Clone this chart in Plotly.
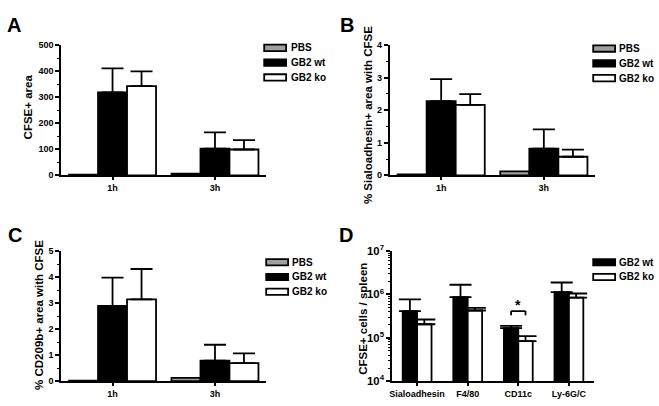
import plotly.graph_objects as go
import numpy as np

W, H = 659, 406
FONT = "Liberation Sans, Arial, sans-serif"

# ---------------- data ----------------
time_cats = ["1h", "3h"]

a_pbs = [3, 6]
a_wt = [318, 102]
a_wt_err = [92, 63]
a_ko = [342, 99]
a_ko_err = [57, 36]

b_pbs = [0.03, 0.12]
b_wt = [2.28, 0.82]
b_wt_err = [0.67, 0.59]
b_ko = [2.16, 0.57]
b_ko_err = [0.33, 0.22]

c_pbs = [0.02, 0.13]
c_wt = [2.89, 0.79]
c_wt_err = [1.09, 0.61]
c_ko = [3.14, 0.69]
c_ko_err = [1.17, 0.38]

cell_cats = ["Sialoadhesin", "F4/80", "CD11c", "Ly-6G/C"]
d_wt = [4.1e5, 8.7e5, 1.67e5, 1.13e6]
d_wt_err = [3.6e5, 8.0e5, 2.1e4, 7.5e5]
d_ko = [2.05e5, 4.26e5, 8.4e4, 8.4e5]
d_ko_err = [5.9e4, 6.3e4, 2.5e4, 2.1e5]

series_names = ["PBS", "GB2 wt", "GB2 ko"]
series_colors = ["#a0a0a0", "#000000", "#ffffff"]

# ---------------- helpers ----------------
def px_x(p):
    return p / W

def px_y(p):
    return 1 - p / H

fig = go.Figure()

BAR_LINE = dict(color="black", width=1.8)
ERR = dict(color="black", thickness=1.8, width=11)


def add_bar(x, y, err, color, xa, ya, width, offset):
    kw = {}
    if err is not None:
        kw["error_y"] = dict(type="data", symmetric=False, array=err,
                             arrayminus=[0] * len(err), **ERR)
    fig.add_trace(go.Bar(x=x, y=y, marker=dict(color=color, line=BAR_LINE),
                         width=width, offset=offset, xaxis=xa, yaxis=ya,
                         showlegend=False, **kw))


wt3 = 0.283
for (pbs, wt, wte, ko, koe, xa, ya) in [
    (a_pbs, a_wt, a_wt_err, a_ko, a_ko_err, "x", "y"),
    (b_pbs, b_wt, b_wt_err, b_ko, b_ko_err, "x2", "y2"),
    (c_pbs, c_wt, c_wt_err, c_ko, c_ko_err, "x3", "y3"),
]:
    add_bar(time_cats, pbs, None, series_colors[0], xa, ya, wt3, -1.5 * wt3)
    add_bar(time_cats, wt, wte, series_colors[1], xa, ya, wt3, -0.5 * wt3)
    add_bar(time_cats, ko, koe, series_colors[2], xa, ya, wt3, 0.5 * wt3)

wd = 0.285
add_bar(cell_cats, d_wt, d_wt_err, series_colors[1], "x4", "y4", wd, -wd)
add_bar(cell_cats, d_ko, d_ko_err, series_colors[2], "x4", "y4", wd, 0)

# ---------------- axes ----------------
tickfont = dict(family=FONT, size=9, color="black", weight="bold")


def xaxis(domain, anchor, ncat):
    return dict(domain=domain, anchor=anchor, type="category",
                range=[-0.5, ncat - 0.5], showline=True, linecolor="black",
                linewidth=2, ticks="outside", ticklen=3, tickwidth=1.5,
                tickcolor="black", showgrid=False, zeroline=False,
                tickfont=tickfont, fixedrange=True)


def yaxis(domain, anchor, rng, dtick, minor_dtick):
    return dict(domain=domain, anchor=anchor, range=rng, dtick=dtick,
                showline=True, linecolor="black", linewidth=2,
                ticks="outside", ticklen=4, tickwidth=1.5, tickcolor="black",
                showgrid=False, zeroline=False, tickfont=tickfont,
                minor=dict(ticks="outside", ticklen=2, tickwidth=1.2,
                           tickcolor="black", dtick=minor_dtick, showgrid=False))


xA = [px_x(59.5), px_x(265)]
xB = [px_x(389), px_x(595)]
xD = [px_x(391), px_x(594)]
yTop = [px_y(173.3), px_y(38.3)]
yBot = [px_y(386.5), px_y(251.7)]

ylogD = yaxis(yBot, "x4", [4, 7], 1, "D1")
ylogD.update(type="log", exponentformat="power", showexponent="all")

fig.update_layout(
    width=W, height=H, margin=dict(l=0, r=0, t=0, b=0),
    paper_bgcolor="white", plot_bgcolor="white", barmode="overlay",
    font=dict(family=FONT, color="black"),
    xaxis=xaxis(xA, "y", 2), yaxis=yaxis(yTop, "x", [0, 500], 100, 50),
    xaxis2=xaxis(xB, "y2", 2), yaxis2=yaxis(yTop, "x2", [0, 4], 1, 0.5),
    xaxis3=xaxis(xA, "y3", 2), yaxis3=yaxis(yBot, "x3", [0, 5], 1, 0.5),
    xaxis4=xaxis(xD, "y4", 4), yaxis4=ylogD,
)

# ---------------- annotations / legends ----------------
ann = []
shapes = []

# panel letters
for letter, x, y in [("A", 3, 4), ("B", 337, 4), ("C", 4, 222), ("D", 336, 222)]:
    ann.append(dict(text=letter, xref="paper", yref="paper", x=px_x(x), y=px_y(y),
                    xanchor="left", yanchor="top", showarrow=False,
                    font=dict(family=FONT, size=20, weight="bold", color="black")))

# y-axis titles
for title, x, y in [("CFSE+ area", 27, 102), ("% Sialoadhesin+ area with CFSE", 367, 111),
                    ("% CD209b+ area with CFSE", 37, 318), ("CFSE+ cells / spleen", 362, 322)]:
    ann.append(dict(text=title, xref="paper", yref="paper", x=px_x(x), y=px_y(y),
                    xanchor="center", yanchor="middle", textangle=-90, showarrow=False,
                    font=dict(family=FONT, size=11.5, weight="bold", color="black")))


def legend(x0, ytop, names, colors, textx):
    for i, (n, c) in enumerate(zip(names, colors)):
        yc = ytop + i * 15.3
        shapes.append(dict(type="rect", xref="paper", yref="paper",
                           x0=px_x(x0), x1=px_x(x0 + 22), y0=px_y(yc - 3.3), y1=px_y(yc + 3.3),
                           fillcolor=c, line=dict(color="black", width=1.8)))
        ann.append(dict(text=n, xref="paper", yref="paper", x=px_x(textx), y=px_y(yc),
                        xanchor="left", yanchor="middle", showarrow=False,
                        font=dict(family=FONT, size=10, weight="bold", color="black")))


legend(263, 41.3, series_names, series_colors, 288)
legend(593, 42, series_names, series_colors, 617)
legend(265, 263.3, series_names, series_colors, 289)
legend(593, 263.3, series_names[1:], series_colors[1:], 617)

# significance bracket for CD11c
bx0, bx1 = 2 - wd / 2, 2 + wd / 2
btop, bleg = 4.13e5, 3.3e5
for (x0, y0, x1, y1) in [(bx0, btop, bx1, btop), (bx0, bleg, bx0, btop), (bx1, bleg, bx1, btop)]:
    shapes.append(dict(type="line", xref="x4", yref="y4", x0=x0, x1=x1, y0=y0, y1=y1,
                       line=dict(color="black", width=1.8)))
ann.append(dict(text="*", xref="x4", yref="y4", x=2, y=np.log10(5.6e5),
                xanchor="center", yanchor="middle", showarrow=False,
                font=dict(family=FONT, size=14, weight="bold", color="black")))

fig.update_layout(annotations=ann, shapes=shapes)

fig.write_html(
    "out.html",
    config={"displayModeBar": False},
    post_script="document.body.style.margin='0';document.body.style.overflow='hidden';",
)
